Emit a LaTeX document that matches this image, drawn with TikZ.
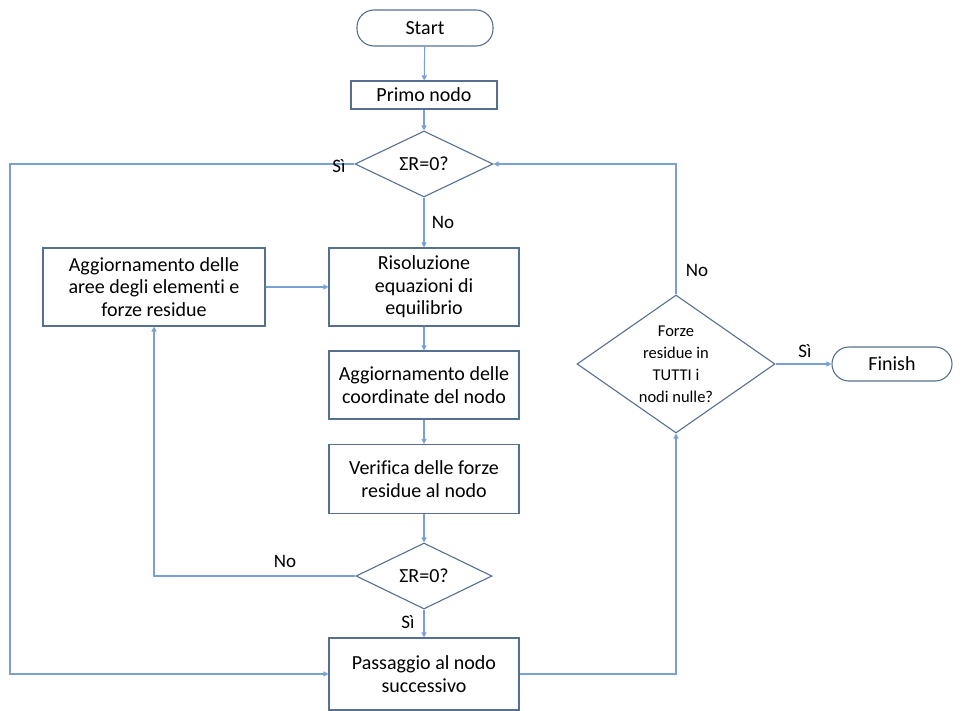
\documentclass[tikz,border=0pt]{standalone}
\usepackage{fontspec}
\setmainfont{Carlito}[Ligatures=NoCommon]
\usepackage{tikz}
\usetikzlibrary{shapes.geometric}
\usetikzlibrary{arrows.meta}
\definecolor{lineblue}{RGB}{120,160,210}
\definecolor{edgeblue}{RGB}{85,112,145}
\tikzset{
  box/.style={draw=edgeblue, line width=1.1pt, rectangle, align=center, inner sep=2pt,
    font=\fontsize{20}{22.5}\selectfont},
  term/.style={box, rounded corners=17pt},
  cond/.style={draw=edgeblue, line width=1.1pt, diamond, inner sep=0pt},
  condtxt/.style={font=\fontsize{16.5}{22}\selectfont, align=center},
  flow/.style={draw=lineblue, line width=1.1pt, -{Triangle[width=5pt,length=5pt]}},
  lbl/.style={font=\fontsize{19}{21}\selectfont, inner sep=0pt}
}
\begin{document}
\begin{tikzpicture}[x=1pt,y=-1pt]
\useasboundingbox (0,0) rectangle (963,711);
%nodes
\node[term, minimum width=136pt, minimum height=36pt] (start) at (425,28) {Start};
\node[box, minimum width=146pt, minimum height=28pt] (primo) at (424,95) {Primo nodo};
\node[cond, minimum width=138pt, minimum height=66pt,
  label={[condtxt, font=\fontsize{20}{22}\selectfont]center:ΣR=0?}] (cond1) at (424,164) {};
\node[box, minimum width=222pt, minimum height=78pt] (areas) at (154,287)
  {Aggiornamento delle\\aree degli elementi e\\forze residue};
\node[box, minimum width=190pt, minimum height=78pt] (solve) at (424,287)
  {Risoluzione\\equazioni di\\equilibrio};
\node[box, minimum width=190pt, minimum height=68pt] (coords) at (424,385)
  {Aggiornamento delle\\coordinate del nodo};
\node[box, minimum width=190pt, minimum height=69pt] (check) at (424,479)
  {Verifica delle forze\\residue al nodo};
\node[cond, minimum width=136pt, minimum height=66pt,
  label={[condtxt, font=\fontsize{20}{22}\selectfont]center:ΣR=0?}] (cond2) at (424,576) {};
\node[box, minimum width=190pt, minimum height=72pt] (next) at (424,674)
  {Passaggio al nodo\\successivo};
\node[cond, minimum width=198pt, minimum height=138pt,
  label={[condtxt]center:{Forze\\residue in\\TUTTI i\\nodi nulle?}}] (allnodes) at (676,364) {};
\node[term, minimum width=120pt, minimum height=34pt] (finish) at (892,364) {Finish};
\coordinate (leftrail) at (10,164);

%edges
\draw[flow] (start) -- (primo);
\draw[flow] (primo) -- (cond1);
\draw[flow] (cond1) -- (solve);
\draw[flow] (cond1.west) -- (leftrail) |- (next.west);
\draw[flow] (areas) -- (solve);
\draw[flow] (solve) -- (coords);
\draw[flow] (coords) -- (check);
\draw[flow] (check) -- (cond2);
\draw[flow] (cond2) -- (next);
\draw[flow] (cond2.west) -| (areas.south);
\draw[flow] (next.east) -| (allnodes.south);
\draw[flow] (allnodes.north) |- (cond1.east);
\draw[flow] (allnodes.east) -- (finish.west);

%labels
\node[lbl] (l1) at (339,166) {Sì};
\node[lbl] (l2) at (443,222) {No};
\node[lbl] (l3) at (285,561) {No};
\node[lbl] (l4) at (408,622) {Sì};
\node[lbl] (l5) at (697,270) {No};
\node[lbl] (l6) at (805,351) {Sì};
\end{tikzpicture}
\end{document}
